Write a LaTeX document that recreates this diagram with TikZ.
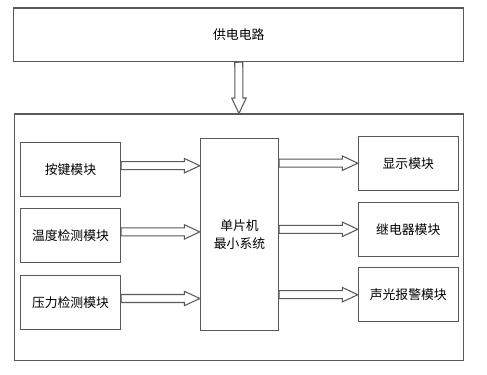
\documentclass[tikz,border=0pt]{standalone}
\usepackage{fontspec}
\setmainfont{Noto Sans CJK SC}
\usetikzlibrary{calc, positioning}

\tikzset{
  box/.style={draw=black!65, line width=0.6pt, minimum width=2cm, minimum height=1.08cm,
    inner sep=1pt, font=\fontsize{7.3}{10.2}\selectfont},
  % hollow block arrow: shaft half width, head half width, head length
  fat/.style={draw=black!65, line width=0.6pt, fill=white, to path={
    ($(\tikztostart)!0.08cm!90:(\tikztotarget)$)
    -- ($(\tikztotarget)!0.31cm!(\tikztostart)!0.08cm!90:(\tikztotarget)$)
    -- ($(\tikztotarget)!0.31cm!(\tikztostart)!0.145cm!90:(\tikztotarget)$)
    -- (\tikztotarget)
    -- ($(\tikztotarget)!0.31cm!(\tikztostart)!0.145cm!-90:(\tikztotarget)$)
    -- ($(\tikztotarget)!0.31cm!(\tikztostart)!0.08cm!-90:(\tikztotarget)$)
    -- ($(\tikztostart)!0.08cm!-90:(\tikztotarget)$)
    -- cycle}}
}

\begin{document}
\begin{tikzpicture}[x=0.02cm, y=-0.02cm]
    \useasboundingbox (0,0) rectangle (487,375);

    % 供电电路
    \node[box, minimum width=9.01cm, minimum height=1.074cm] (power) at (238.75,34.85) {供电电路};

    % 外框
    \node[box, minimum width=9cm, minimum height=4.934cm] (frame) at (239,237.35) {};

    % 单片机
    \node[box, minimum width=1.568cm, minimum height=3.848cm, align=center] (mcu) at (239.5,234.5) {单片机\\最小系统};

    % 输入模块
    \node[box] (key) at (70.5,169.7) {按键模块};
    \node[box] (temp) at (70.5,235.9) {温度检测模块};
    \node[box] (press) at (70.5,302.5) {压力检测模块};

    % 输出模块
    \node[box] (disp) at (408.3,163.2) {显示模块};
    \node[box] (relay) at (408.3,229.3) {继电器模块};
    \node[box] (alarm) at (408.3,294.7) {声光报警模块};

    % 箭头
    \draw[fat] (power.south) to (frame.north);

    \coordinate (kin) at ([yshift=0.08cm]key.east);
    \coordinate (tin) at ([yshift=0.08cm]temp.east);
    \coordinate (pin) at ([yshift=0.08cm]press.east);
    \draw[fat] (kin) to (kin -| mcu.west);
    \draw[fat] (tin) to (tin -| mcu.west);
    \draw[fat] (pin) to (pin -| mcu.west);

    \draw[fat] (disp.west -| mcu.east) to (disp.west);
    \draw[fat] (relay.west -| mcu.east) to (relay.west);
    \draw[fat] (alarm.west -| mcu.east) to (alarm.west);
\end{tikzpicture}
\end{document}
